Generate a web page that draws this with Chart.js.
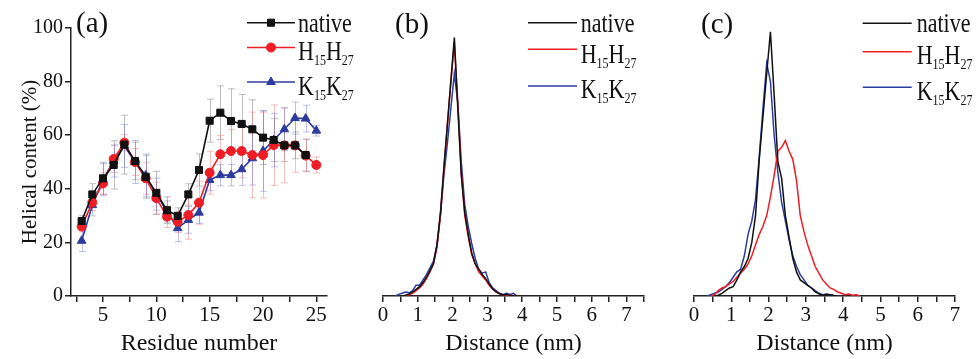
<!DOCTYPE html>
<html><head><meta charset="utf-8">
<script src="https://cdn.jsdelivr.net/npm/chart.js@4/dist/chart.umd.min.js"></script>
<style>
html,body{margin:0;padding:0;background:#fff;}
#wrap{position:relative;width:976px;height:359px;overflow:hidden;background:#fff;}
canvas{position:absolute;left:0;top:0;}
</style></head><body>
<div id="wrap">
<canvas id="ca" width="976" height="359"></canvas>
<canvas id="cb" width="976" height="359"></canvas>
<canvas id="cc" width="976" height="359"></canvas>
</div>
<script>
// ---------- data ----------
const seriesNames = ['native', 'H₁₅H₂₇', 'K₁₅K₂₇'];
const residues = [3,4,5,6,7,8,9,10,11,12,13,14,15,16,17,18,19,20,21,22,23,24,25];
const helixNative = [28,37.9,43.9,48.9,56.5,50.4,44.5,38.5,32,29.9,37.9,47,65.4,68.4,65.3,64.2,62.2,59.1,58.2,56.2,56.2,52.6,null];
const helixH = [25.9,34.9,42,51.1,57.2,50,43.9,36.5,29.6,27.7,30.2,34.8,46,52.9,54.1,54.1,52.6,52.6,56.3,56.2,56.2,52.4,48.9];
const helixK = [20.6,33.9,43.4,50.4,56,50,45,38,31.5,25.3,28.4,31.1,43.3,45.1,45.1,47.3,51.4,54.1,58.2,62.2,66.4,66.2,61.7];
const errNative = [2,4,6,9,11,7,8,8,5,3,4,6,8,10,12,11,11,10,8,6,5,6,null];
const errH = [2,3,4,5,3,5,6,6,4,4,9,8,8,7,8,10,16,16,15,14,10,6,3];
const errK = [4,4,6,6,8,8,8,6,4,5,5,4,4,4,4,6,10,15,10,8,6,5,2];

const distance = [0.35,0.45,0.55,0.65,0.75,0.85,0.95,1.05,1.15,1.25,1.35,1.45,1.55,1.65,1.75,1.85,1.95,2.05,2.15,2.25,2.35,2.45,2.55,2.65,2.75,2.85,2.95,3.05,3.15,3.25,3.35,3.45,3.55,3.65,3.75,3.85,3.95,4.05,4.15,4.25,4.35,4.45];
const distB_native = [null,null,0,0.3,0.8,1.5,2.5,3.5,5,7,9.5,12,19,31,48,64,80,96.4,70,45,31,23,16,12,10,8,6.5,4.5,2.7,1.5,0.8,0.4,0.6,0.3,0.1,0,null,null,null,null,null,null];
const distB_H = [null,null,0,0.2,0.5,1,2,3,4.5,6.5,9,12,18,30,47,64,80,94.5,72,46,30,22,15.5,12,9,7.5,6,4,2.5,1.5,0.8,0.4,0.3,0.3,0.1,0,null,null,null,null,null,null];
const distB_K = [0,0.6,1,1.5,1.2,2,4,4,6,8,10.5,13,19,30,45,57,70,83,72,50,34,26,19.5,14,10,8.5,9,5,3,2,1,0.6,1,0.6,1,0,null,null,null,null,null,null];
const distC_native = [null,null,0,0.3,1,2,3,3.5,6,9,11,14,20,30,51,67,83,98.6,75,50,44,30,22,14,9,6,5,4,3,1.5,0.8,0.3,0.6,0.5,0.2,0,null,null,null,null,null,null];
const distC_H = [null,0,0.5,2,3,3.5,4.5,5.5,7,8.5,10,12,15,19,23,26,30,37,45,54,55.5,58,54,51,43,30,24,19,15,11,8.5,6,4.5,3,2.5,1.5,1,0.5,0.7,0.3,0.5,0];
const distC_K = [0,0.5,1,1.5,2.5,3.5,5,7,9,10,15,23,28,36,52,70,86.8,80,60,46,35,28,21,15,11,8,6,4,3,2,1,0.5,0.7,0.5,0.2,0,null,null,null,null,null,null];

const residueTicks = [2.5,5,7.5,10,12.5,15,17.5,20,22.5,25];
const helixTicks = [0,10,20,30,40,50,60,70,80,90,100];
const distTicksB = [0,0.5,1,1.5,2,2.5,3,3.5,4,4.5,5,5.5,6,6.5,7,7.5];
const distTicksC = [0,0.5,1,1.5,2,2.5,3,3.5,4,4.5,5,5.5,6,6.5,7];

// ---------- style ----------
const FONT = '"Liberation Serif", "Times New Roman", serif';
Chart.defaults.font.family = FONT;
Chart.defaults.color = '#111';
const COL = ['#111111', '#ee1c24', '#2c3c9e'];
const ERRCOL = ['rgba(110,110,110,0.45)', 'rgba(245,110,110,0.45)', 'rgba(110,120,210,0.45)'];
const SUB = '₀₁₂₃₄₅₆₇₈₉';

function drawRich(ctx, text, x, y, size, subSize, drop, stretch) {
  ctx.save();
  ctx.translate(x, y);
  ctx.scale(1, stretch);
  let cx = 0;
  for (const ch of text) {
    const k = SUB.indexOf(ch);
    if (k >= 0) {
      ctx.font = subSize + 'px ' + FONT;
      ctx.fillText(String(k), cx, drop / stretch);
      cx += ctx.measureText(String(k)).width;
    } else {
      ctx.font = size + 'px ' + FONT;
      ctx.fillText(ch, cx, 0);
      cx += ctx.measureText(ch).width;
    }
  }
  ctx.restore();
}
function marker(ctx, style, r, x, y) {
  ctx.beginPath();
  if (style === 'rect') { const s = r * Math.SQRT1_2; ctx.rect(x - s, y - s, 2 * s, 2 * s); }
  else if (style === 'circle') { ctx.arc(x, y, r, 0, Math.PI * 2); }
  else if (style === 'triangle') {
    ctx.moveTo(x, y - r); ctx.lineTo(x + r * 0.866, y + r * 0.5); ctx.lineTo(x - r * 0.866, y + r * 0.5); ctx.closePath();
  }
  ctx.fill(); ctx.stroke();
}

const decor = {
  id: 'decor',
  beforeDatasetsDraw(chart) {
    const ctx = chart.ctx, ys = chart.scales.y;
    chart.data.datasets.forEach((ds, i) => {
      if (!ds.errors) return;
      const meta = chart.getDatasetMeta(i);
      ctx.save();
      ctx.strokeStyle = ds.errorColor; ctx.lineWidth = 1;
      meta.data.forEach((pt, j) => {
        const v = ds.data[j].y, e = ds.errors[j];
        if (v == null || e == null) return;
        const y1 = ys.getPixelForValue(v + e), y2 = ys.getPixelForValue(v - e), x = Math.round(pt.x) + 0.5;
        ctx.beginPath();
        ctx.moveTo(x, y1); ctx.lineTo(x, y2);
        ctx.moveTo(x - 3.5, y1); ctx.lineTo(x + 3.5, y1);
        ctx.moveTo(x - 3.5, y2); ctx.lineTo(x + 3.5, y2);
        ctx.stroke();
      });
      ctx.restore();
    });
  },
  afterDraw(chart, args, o) {
    const ctx = chart.ctx;
    ctx.save();
    ctx.textAlign = 'left'; ctx.textBaseline = 'alphabetic';
    ctx.fillStyle = '#111';
    ctx.font = o.panelSize + 'px ' + FONT;
    ctx.fillText(o.panel, o.panelX, o.panelY);
    chart.data.datasets.forEach((ds, i) => {
      const ry = o.rows[i];
      ctx.strokeStyle = ds.borderColor; ctx.lineWidth = ds.borderWidth;
      ctx.beginPath(); ctx.moveTo(o.x0, ry); ctx.lineTo(o.x1, ry); ctx.stroke();
      if (ds.pointRadius > 0) {
        ctx.fillStyle = ds.pointBackgroundColor; ctx.strokeStyle = ds.borderColor; ctx.lineWidth = 1;
        marker(ctx, ds.pointStyle, ds.pointRadius, (o.x0 + o.x1) / 2, ry);
      }
      ctx.fillStyle = '#111';
      drawRich(ctx, ds.label, o.tx, o.base[i], 22, 12, 5, 1.2);
    });
    ctx.restore();
  }
};

function xAxis(min, max, ticks, every, title) {
  return {
    type: 'linear', min, max,
    afterBuildTicks: s => { s.ticks = ticks.map(v => ({ value: v })); },
    afterFit: s => { s.height = 62; },
    ticks: { autoSkip: false, maxRotation: 0, padding: 1, font: { size: 21 }, color: '#111',
      callback: v => (Math.abs(v / every - Math.round(v / every)) < 1e-6 ? String(v) : '') },
    grid: { drawOnChartArea: false, drawTicks: true, tickLength: 6, color: '#222', lineWidth: 1.5 },
    border: { display: true, color: '#222', width: 1.5 },
    title: { display: true, text: title, font: { size: 24 }, color: '#111', padding: { top: 0, bottom: 0 } }
  };
}
function pts(xs, ys) { return xs.map((x, i) => ({ x, y: ys[i] })).filter(p => p.y != null); }
function baseOpts(padding, scales, decorOpts) {
  return {
    responsive: false, animation: false, events: [],
    layout: { padding },
    plugins: { legend: { display: false }, tooltip: { enabled: false }, decor: decorOpts },
    scales
  };
}

// ---------- panel (a) ----------
const styles = ['rect', 'circle', 'triangle'];
const radii = [5, 4.5, 5];
const helixSeries = [helixNative, helixH, helixK];
const helixErr = [errNative, errH, errK];
new Chart(document.getElementById('ca'), {
  type: 'line',
  data: { datasets: helixSeries.map((vals, i) => ({
    label: seriesNames[i],
    data: residues.map((r, j) => ({ x: r, y: vals[j] })),
    errors: helixErr[i], errorColor: ERRCOL[i],
    borderColor: COL[i], backgroundColor: COL[i], pointBackgroundColor: COL[i], pointBorderColor: COL[i],
    borderWidth: 1.6, pointStyle: styles[i], pointRadius: radii[i], pointBorderWidth: 1, tension: 0, spanGaps: false
  })) },
  options: baseOpts({ left: 18, right: 649, top: 28, bottom: 1 }, {
    x: xAxis(2, 26, residueTicks, 5, 'Residue number'),
    y: {
      type: 'linear', min: 0, max: 100,
      afterBuildTicks: s => { s.ticks = helixTicks.map(v => ({ value: v })); },
      afterFit: s => { s.width = 53; },
      ticks: { padding: 2, font: { size: 20 }, color: '#111', callback: v => (v % 20 === 0 ? String(v) : '') },
      grid: { drawOnChartArea: false, drawTicks: true, tickLength: 6, color: '#222', lineWidth: 1.5 },
      border: { display: true, color: '#222', width: 1.5 },
      title: { display: true, text: 'Helical content (%)', font: { size: 21 }, color: '#111', padding: { top: 0, bottom: 0 } }
    }
  }, { panel: '(a)', panelX: 76, panelY: 32, panelSize: 29, x0: 247, x1: 295, rows: [22.7, 47.5, 82], tx: 298, base: [31.7, 60, 95] }),
  plugins: [decor]
});

// ---------- panels (b) and (c) ----------
function distChart(id, series, ticks, max, padding, dOpts) {
  new Chart(document.getElementById(id), {
    type: 'line',
    data: { datasets: series.map((vals, i) => ({
      label: seriesNames[i], data: pts(distance, vals),
      borderColor: COL[i], backgroundColor: COL[i], borderWidth: 1.5, pointRadius: 0, tension: 0
    })) },
    options: baseOpts(padding, {
      x: xAxis(0, max, ticks, 1, 'Distance (nm)'),
      y: { type: 'linear', min: 0, max: 100, display: false }
    }, dOpts),
    plugins: [decor]
  });
}
distChart('cb', [distB_native, distB_H, distB_K], distTicksB, 7.5, { left: 383, right: 332, top: 28, bottom: 1 },
  { panel: '(b)', panelX: 395, panelY: 33, panelSize: 29, x0: 528, x1: 577, rows: [22.7, 49.3, 86], tx: 580.7, base: [31.7, 62.7, 98.3] });
distChart('cc', [distC_native, distC_H, distC_K], distTicksC, 7, { left: 694, right: 21, top: 28, bottom: 1 },
  { panel: '(c)', panelX: 701, panelY: 33, panelSize: 29, x0: 862.7, x1: 911.7, rows: [23.3, 51.7, 87.3], tx: 916.7, base: [32, 64, 99.5] });
</script>
</body></html>
